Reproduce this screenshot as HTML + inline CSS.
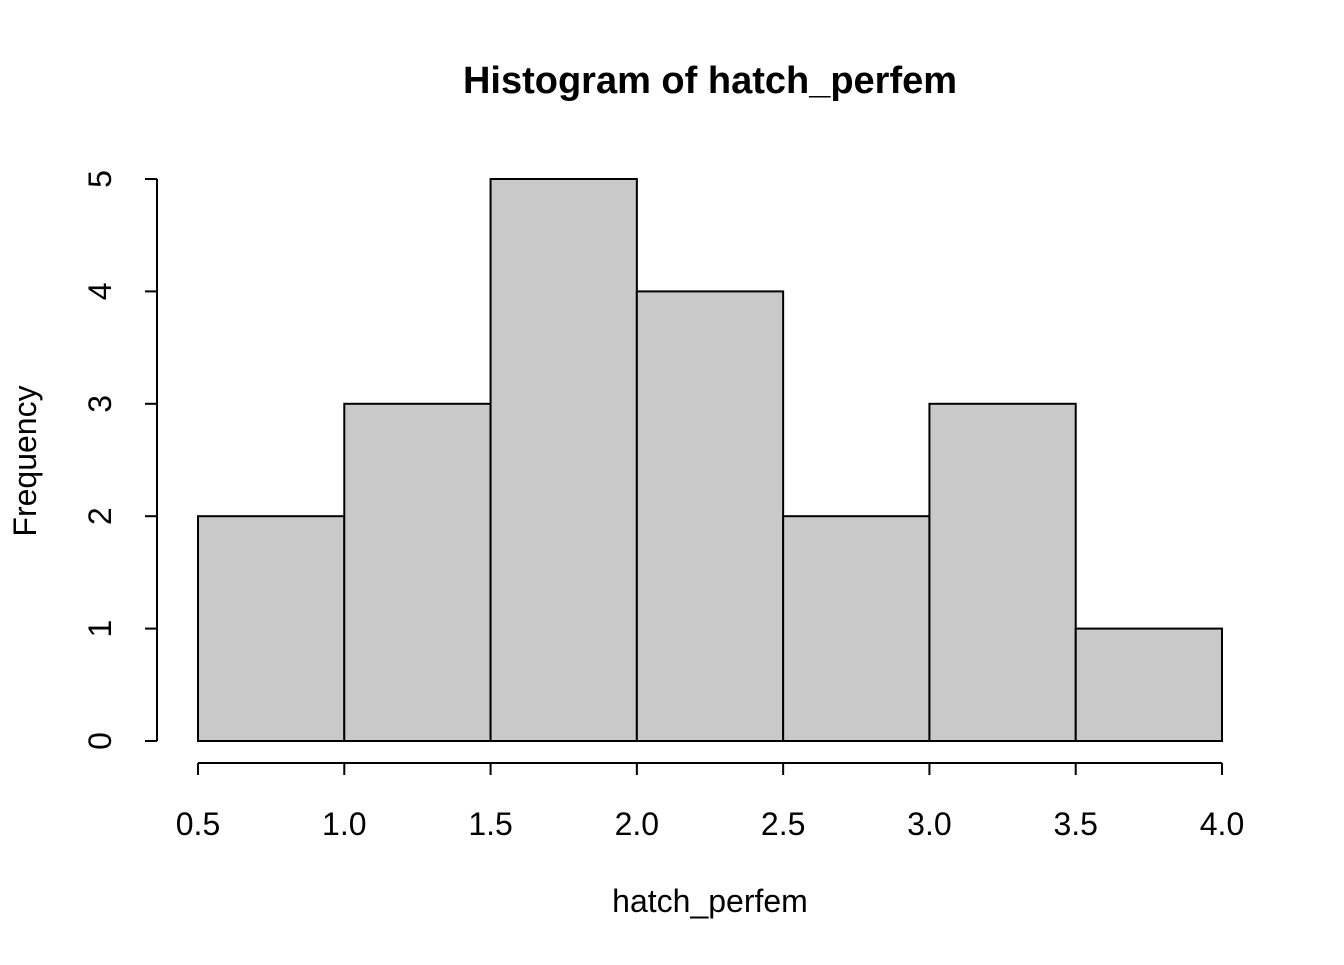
<!DOCTYPE html>
<html><head><meta charset="utf-8"><style>
body{margin:0;background:#fff}
text{font-family:"Liberation Sans",Arial,sans-serif;fill:#000}
</style></head><body>
<svg id="chart" width="1344" height="960" xmlns="http://www.w3.org/2000/svg">
<text x="710" y="93" text-anchor="middle" font-size="38" font-weight="bold">Histogram of hatch_perfem</text>
<text x="710" y="912" text-anchor="middle" font-size="32">hatch_perfem</text>
<text transform="translate(36,461) rotate(-90)" text-anchor="middle" font-size="32">Frequency</text>
<g id="bars"></g><g id="xaxis"></g><g id="yaxis"></g>
</svg>
<script>
const breaks=[0.5,1.0,1.5,2.0,2.5,3.0,3.5,4.0];
const counts=[2,3,5,4,2,3,1];
const xTicks=["0.5","1.0","1.5","2.0","2.5","3.0","3.5","4.0"];
const yTicks=[0,1,2,3,4,5];
const ns="http://www.w3.org/2000/svg";
const X=v=>198+(v-0.5)*(1222-198)/3.5;
const Y=v=>741-v*(741-179)/5;
function mk(tag,attrs,parent){const e=document.createElementNS(ns,tag);for(const k in attrs)e.setAttribute(k,attrs[k]);parent.appendChild(e);return e;}
const bars=document.getElementById('bars');
counts.forEach((c,i)=>{
 const r=mk('rect',{x:X(breaks[i]),y:Y(c),width:X(breaks[i+1])-X(breaks[i]),height:Y(0)-Y(c),fill:'#c9c9c9',stroke:'#000','stroke-width':2},bars);
 
 
});
const xa=document.getElementById('xaxis');


mk('line',{x1:X(0.5),x2:X(4.0),y1:763,y2:763,stroke:'#000','stroke-width':2},xa);
xTicks.forEach(t=>{const v=parseFloat(t);
 mk('line',{x1:X(v),x2:X(v),y1:763,y2:775,stroke:'#000','stroke-width':2},xa);
 const tx=mk('text',{x:X(v),y:835,'text-anchor':'middle','font-size':32},xa);tx.textContent=t;
 
 
});
const ya=document.getElementById('yaxis');


mk('line',{x1:157,x2:157,y1:Y(0),y2:Y(5),stroke:'#000','stroke-width':2},ya);
yTicks.forEach(v=>{
 mk('line',{x1:145,x2:157,y1:Y(v),y2:Y(v),stroke:'#000','stroke-width':2},ya);
 const tx=mk('text',{transform:`translate(111,${Y(v)}) rotate(-90)`,'text-anchor':'middle','font-size':32},ya);tx.textContent=v;
 
 
});
</script>
</body></html>
